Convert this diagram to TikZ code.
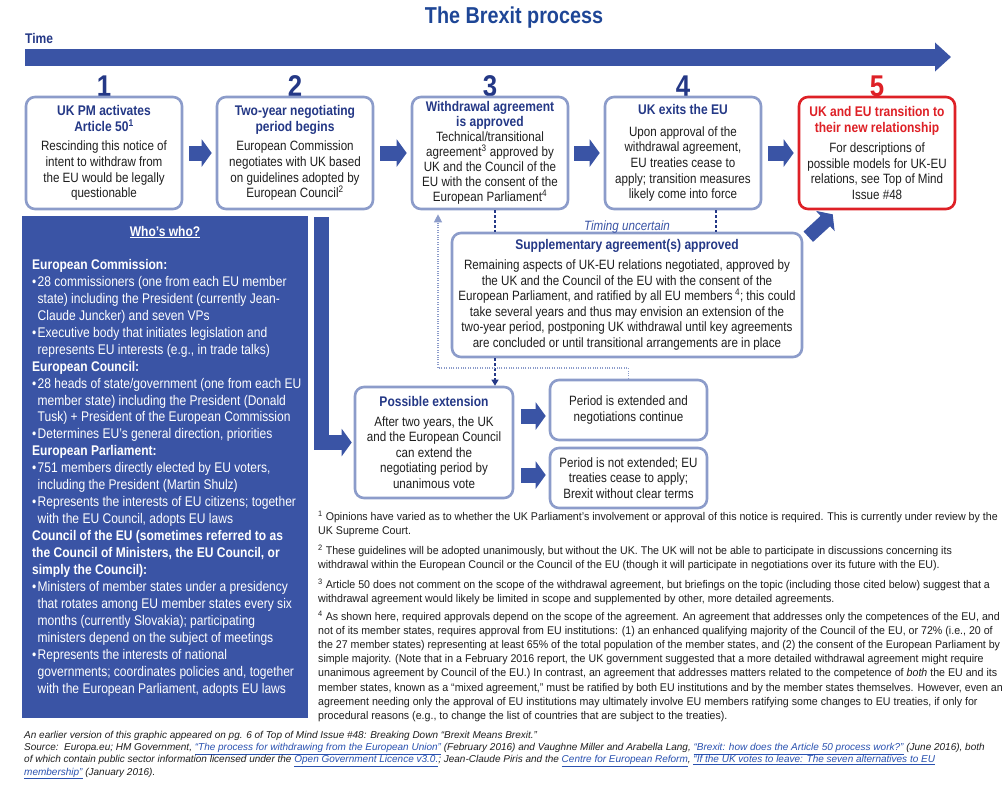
\documentclass[tikz,border=0pt]{standalone}
\usepackage{fontspec}
\setmainfont{Liberation Sans}[FakeStretch=0.86]
\newfontfamily\fnfam{Liberation Sans}[FakeStretch=0.95]
\newfontfamily\srcfam{Liberation Sans}
\usetikzlibrary{arrows.meta,calc}
\definecolor{navy}{RGB}{36,56,134}
\definecolor{titleblue}{RGB}{30,70,150}
\definecolor{barblue}{RGB}{58,84,165}
\definecolor{boxline}{RGB}{140,156,202}
\definecolor{redc}{RGB}{222,32,38}
\definecolor{txt}{RGB}{30,30,30}
\definecolor{linkblue}{RGB}{40,80,175}
\newcommand\fsz[2]{\fontsize{#1}{#2}\selectfont}
\newcommand\hd[1]{{\color{navy}\bfseries\fsz{14}{16}#1}}
\newcommand\hdr[1]{{\color{redc}\bfseries\fsz{14}{16}#1}}
\newcommand\sumark[1]{\textsuperscript{#1}}
\newcommand\wh[1]{{\bfseries #1}}
\newcommand\bul{\makebox[5.5pt][l]{\textbullet}}
\newcommand\ind{\hspace*{5.5pt}}
\newcommand\lnk[1]{{\color{linkblue}\underline{#1}}}
\begin{document}
\begin{tikzpicture}[x=1pt,y=-1pt,
  box/.style={draw=boxline, line width=2.6pt, rounded corners=9pt, fill=white,
    minimum width=156pt, minimum height=112pt, align=center, inner sep=1pt,
    text=txt, font=\fsz{13.5}{15.6}},
  redbox/.style={box, draw=redc},
  num/.style={font=\bfseries\fsz{30}{30}, text=navy},
  blockarrow/.style={draw=barblue, line width=15pt, -{Triangle[length=10pt,width=27pt]}},
  dashcon/.style={draw=navy, line width=1.1pt, dash pattern=on 3pt off 2pt},
  dasharrow/.style={dashcon, -{Triangle[length=6pt,width=7pt]}},
  dotcon/.style={draw=boxline, line width=1.2pt, dash pattern=on 1pt off 1.4pt,
    -{Triangle[length=8pt,width=8pt]}},
  fn/.style={anchor=north west, align=left, inner sep=0pt, text=txt, font=\fnfam\fsz{11.2}{14.1}},
  src/.style={anchor=north west, align=left, inner sep=0pt, text=txt, font=\srcfam\itshape\fsz{10}{12.2}}
]
\useasboundingbox[fill=white] (0,0) rectangle (1004,785);

% title and time arrow
\node[font=\bfseries\fsz{23}{25}, text=titleblue] (title) at (514,18) {The Brexit process};
\node[anchor=west, inner sep=0pt, font=\bfseries\fsz{14}{16}, text=navy] (time) at (25,38) {Time};
\coordinate (t0) at (25,57);
\coordinate (t1) at (951,57);
\draw[draw=barblue, line width=17pt, -{Triangle[length=16pt,width=28pt]}] (t0) -- (t1);

% numbers
\node[num] (n1) at (104,86) {1};
\node[num] (n2) at (295,86) {2};
\node[num] (n3) at (490,86) {3};
\node[num] (n4) at (683,86) {4};
\node[num, text=redc] (n5) at (877,86) {5};

% step boxes
\node[box] (b1) at (104,153) {\hd{UK PM activates}\\\hd{Article 50\sumark{1}}\\[4pt]
  Rescinding this notice of\\intent to withdraw from\\the EU would be legally\\questionable};
\node[box] (b2) at (295,153) {\hd{Two-year negotiating}\\\hd{period begins}\\[4pt]
  European Commission\\negotiates with UK based\\on guidelines adopted by\\European Council\sumark{2}};
\node[box, font=\fsz{13.5}{15}] (b3) at (490,153) {\hd{Withdrawal agreement}\\\hd{is approved}\\
  Technical/transitional\\agreement\sumark{3} approved by\\UK and the Council of the\\EU with the consent of the\\European Parliament\sumark{4}};
\node[box] (b4) at (683,153) {\hd{UK exits the EU}\\[6pt]
  Upon approval of the\\withdrawal agreement,\\EU treaties cease to\\apply; transition measures\\likely come into force};
\node[redbox] (b5) at (877,153) {\hdr{UK and EU transition to}\\\hdr{their new relationship}\\[5pt]
  For descriptions of\\possible models for UK-EU\\relations, see Top of Mind\\Issue \#48};

\draw[blockarrow] ([xshift=6pt]b1.east) -- ([xshift=-4pt]b2.west);
\draw[blockarrow] ([xshift=6pt]b2.east) -- ([xshift=-4pt]b3.west);
\draw[blockarrow] ([xshift=5pt]b3.east) -- ([xshift=-4pt]b4.west);
\draw[blockarrow] ([xshift=6pt]b4.east) -- ([xshift=-4pt]b5.west);

% supplementary agreement
\node[box, minimum width=350pt, minimum height=124pt] (supp) at (627,295)
  {\hd{Supplementary agreement(s) approved}\\[4pt]
  Remaining aspects of UK-EU relations negotiated, approved by\\
  the UK and the Council of the EU with the consent of the\\
  European Parliament, and ratified by all EU members\,\sumark{4}; this could\\
  take several years and thus may envision an extension of the\\
  two-year period, postponing UK withdrawal until key agreements\\
  are concluded or until transitional arrangements are in place};
\node[font=\itshape\fsz{13.5}{15}, text=barblue] (timing) at (627,227) {Timing uncertain};

\draw[dashcon] ([xshift=5pt]b3.south) -- ([xshift=5pt]b3.south |- supp.north);
\draw[dashcon] ([xshift=33pt]b4.south) -- ([xshift=33pt]b4.south |- supp.north);
\draw[blockarrow, line width=14pt] ($(supp.north east)+(5,5)$) -- ($(b5.south west)+(35,4)$);

% who's who panel
\node[fill=barblue, minimum width=286pt, minimum height=502pt, inner sep=0pt] (who) at (165,467) {};
\node[text=white, font=\bfseries\fsz{14}{16}] (whoh) at (165,232) {\underline{Who’s who?}};
\node[anchor=north west, align=left, inner sep=0pt, text=white, font=\fsz{14}{16.96}] (whot) at (32,259) {%
\wh{European Commission:}\\
\bul 28 commissioners (one from each EU member\\
\ind state) including the President (currently Jean-\\
\ind Claude Juncker) and seven VPs\\
\bul Executive body that initiates legislation and\\
\ind represents EU interests (e.g., in trade talks)\\
\wh{European Council:}\\
\bul 28 heads of state/government (one from each EU\\
\ind member state) including the President (Donald\\
\ind Tusk) + President of the European Commission\\
\bul Determines EU’s general direction, priorities\\
\wh{European Parliament:}\\
\bul 751 members directly elected by EU voters,\\
\ind including the President (Martin Shulz)\\
\bul Represents the interests of EU citizens; together\\
\ind with the EU Council, adopts EU laws\\
\wh{Council of the EU (sometimes referred to as}\\
\wh{the Council of Ministers, the EU Council, or}\\
\wh{simply the Council):}\\
\bul Ministers of member states under a presidency\\
\ind that rotates among EU member states every six\\
\ind months (currently Slovakia); participating\\
\ind ministers depend on the subject of meetings\\
\bul Represents the interests of national\\
\ind governments; coordinates policies and, together\\
\ind with the European Parliament, adopts EU laws};

% possible extension
\node[box, minimum width=158pt, minimum height=111pt] (ext) at (434,442.5)
  {\hd{Possible extension}\\[4pt]
  After two years, the UK\\and the European Council\\can extend the\\negotiating period by\\unanimous vote};
\node[box, minimum width=157pt, minimum height=60pt] (pe) at (628.5,410)
  {Period is extended and\\negotiations continue};
\node[box, minimum width=157pt, minimum height=60pt] (pn) at (628.5,478)
  {Period is not extended; EU\\treaties cease to apply;\\Brexit without clear terms};

\draw[dasharrow] ([xshift=5pt]b3.south |- supp.south) -- ([xshift=5pt]b3.south |- ext.north);
\draw[blockarrow] ([xshift=106pt,yshift=-7pt]b2.south west) |- ([xshift=-2pt]ext.west);
\draw[blockarrow] ([xshift=7pt,yshift=-6pt]pe.west -| ext.east) -- ([xshift=-3pt,yshift=-6pt]pe.west);
\draw[blockarrow] ([xshift=7pt,yshift=3pt]pn.west -| ext.east) -- ([xshift=-3pt,yshift=3pt]pn.west);
\coordinate (loop) at (438,368);
\draw[dotcon] (pe.north) |- (loop) -- ([yshift=-4pt]loop |- b3.south);

% footnotes
\node[fn] (fn1) at (318,511) {\sumark{1} Opinions have varied as to whether the UK Parliament’s involvement or approval of this notice is required. This is currently under review by the\\UK Supreme Court.};
\node[fn] (fn2) at (318,545) {\sumark{2} These guidelines will be adopted unanimously, but without the UK. The UK will not be able to participate in discussions concerning its\\withdrawal within the European Council or the Council of the EU (though it will participate in negotiations over its future with the EU).};
\node[fn] (fn3) at (318,579) {\sumark{3} Article 50 does not comment on the scope of the withdrawal agreement, but briefings on the topic (including those cited below) suggest that a\\withdrawal agreement would likely be limited in scope and supplemented by other, more detailed agreements.};
\node[fn] (fn4) at (318,611) {\sumark{4} As shown here, required approvals depend on the scope of the agreement. An agreement that addresses only the competences of the EU, and\\
not of its member states, requires approval from EU institutions: (1) an enhanced qualifying majority of the Council of the EU, or 72\% (i.e., 20 of\\
the 27 member states) representing at least 65\% of the total population of the member states, and (2) the consent of the European Parliament by\\
simple majority. (Note that in a February 2016 report, the UK government suggested that a more detailed withdrawal agreement might require\\
unanimous agreement by Council of the EU.) In contrast, an agreement that addresses matters related to the competence of \textit{both} the EU and its\\
member states, known as a “mixed agreement,” must be ratified by both EU institutions and by the member states themselves. However, even an\\
agreement needing only the approval of EU institutions may ultimately involve EU members ratifying some changes to EU treaties, if only for\\
procedural reasons (e.g., to change the list of countries that are subject to the treaties).};

% source
\node[src] (srcnote) at (24,731) {An earlier version of this graphic appeared on pg. 6 of Top of Mind Issue \#48: Breaking Down “Brexit Means Brexit.”\\
Source:\ \ Europa.eu; HM Government, \lnk{“The process for withdrawing from the European Union”} (February 2016) and Vaughne Miller and Arabella Lang, \lnk{“Brexit: how does the Article 50 process work?”} (June 2016), both\\
of which contain public sector information licensed under the \lnk{Open Government Licence v3.0.}; Jean-Claude Piris and the \lnk{Centre for European Reform}, \lnk{“If the UK votes to leave: The seven alternatives to EU}\\
\lnk{membership”} (January 2016).};
\end{tikzpicture}
\end{document}
